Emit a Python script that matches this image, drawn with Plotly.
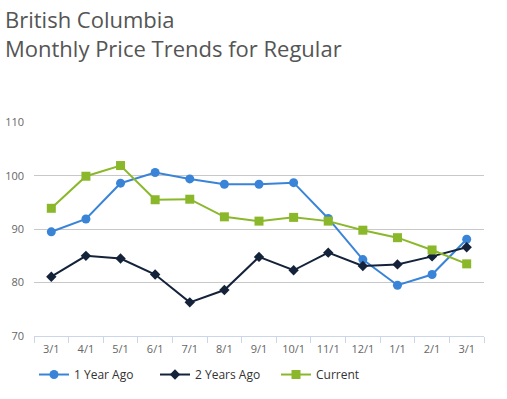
import plotly.graph_objects as go

labels = ["3/1", "4/1", "5/1", "6/1", "7/1", "8/1", "9/1", "10/1", "11/1", "12/1", "1/1", "2/1", "3/1"]
one_year_ago = [89.5, 91.9, 98.6, 100.6, 99.4, 98.4, 98.4, 98.7, 92.0, 84.3, 79.5, 81.5, 88.1]
two_years_ago = [81.1, 85.0, 84.5, 81.5, 76.3, 78.6, 84.8, 82.3, 85.6, 83.1, 83.4, 84.9, 86.6]
current = [93.9, 99.9, 101.9, 95.5, 95.6, 92.3, 91.5, 92.2, 91.5, 89.8, 88.4, 86.1, 83.5]
y_ticks = [70, 80, 90, 100, 110]

xs = list(range(len(labels)))

fig = go.Figure()
fig.add_trace(go.Scatter(x=xs, y=one_year_ago, name="1 Year Ago", mode="lines+markers",
                         line=dict(color="#3a84d8", width=2),
                         marker=dict(symbol="circle", size=9, color="#3a84d8")))
fig.add_trace(go.Scatter(x=xs, y=two_years_ago, name="2 Years Ago", mode="lines+markers",
                         line=dict(color="#14233a", width=2),
                         marker=dict(symbol="diamond", size=8, color="#14233a")))
fig.add_trace(go.Scatter(x=xs, y=current, name="Current", mode="lines+markers",
                         line=dict(color="#8ab82a", width=2),
                         marker=dict(symbol="square", size=9, color="#8ab82a")))

fig.add_annotation(text="British Columbia<br>Monthly Price Trends for Regular",
                   xref="paper", yref="paper", x=-34 / 450, y=1 + 121 / 215,
                   xanchor="left", yanchor="top", align="left", showarrow=False,
                   xshift=3, font=dict(family="Open Sans", size=22, color="#555555"))

fig.update_layout(
    width=507, height=399,
    margin=dict(l=34, r=23, t=122, b=63, autoexpand=False),
    paper_bgcolor="white", plot_bgcolor="white",
    font=dict(family="Open Sans", color="#666666", size=11),
    showlegend=True,
    legend=dict(orientation="h", x=0.0, xanchor="left", y=-0.18, yanchor="middle",
                font=dict(size=12, color="#333333"), itemwidth=30,
                entrywidth=76, entrywidthmode="pixels",
                tracegroupgap=0, traceorder="normal"),
    xaxis=dict(range=[-0.5, 12.5], tickmode="array", tickvals=xs, ticktext=labels,
               ticks="", showgrid=False, zeroline=False, automargin=False,
               showline=True, linecolor="#ccd6eb", linewidth=1, ticklabelstandoff=3,
               tickfont=dict(size=11, color="#666666"),
               minor=dict(tickmode="array", tickvals=[i - 0.5 for i in range(len(labels) + 1)],
                          ticks="outside", ticklen=6, tickcolor="#ccd6eb", showgrid=False)),
    yaxis=dict(range=[70, 110.05], tickmode="array", tickvals=y_ticks,
               showgrid=True, gridcolor="#c8c8c8", gridwidth=1, zeroline=False,
               showline=False, ticks="", ticklabelstandoff=9, automargin=False,
               tickfont=dict(size=11, color="#666666")),
)

fig.write_html("out.html", config={"displayModeBar": False},
               post_script="document.body.style.margin='0';")
